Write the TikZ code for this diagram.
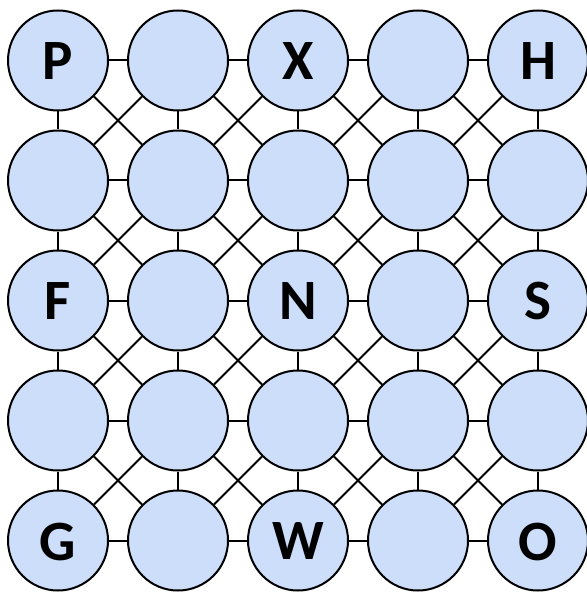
\documentclass[tikz,border=0pt]{standalone}
\usepackage{fontspec}
\setmainfont{Carlito}
\definecolor{cellfill}{RGB}{204,222,250}
\begin{document}
\begin{tikzpicture}[x=0.5pt,y=-0.5pt,
  cell/.style={circle,draw=black,line width=1pt,fill=cellfill,minimum size=50pt,inner sep=0pt},
  letter/.style={font=\fontsize{28.5}{30}\selectfont\bfseries,inner sep=0pt},
  link/.style={line width=1pt,draw=black}]
\useasboundingbox (0,0) rectangle (587,593);
\foreach \r in {1,...,5}{
  \foreach \c in {1,...,5}{
    \node[cell] (n\r\c) at ({58+120*(\c-1)},{60.5+120*(\r-1)}) {};
  }
}
\foreach \n/\t in {11/P,13/X,15/H,31/F,33/N,35/S,51/G,53/W,55/O}{
  \node[letter,yshift=-0.5pt] (t\n) at (n\n) {\t};
}
\foreach \r in {1,...,5}{
  \foreach \c [evaluate=\c as \cn using int(\c+1)] in {1,...,4}{
    \draw[link] (n\r\c) -- (n\r\cn);
    \draw[link] (n\c\r) -- (n\cn\r);
  }
}
\foreach \r [evaluate=\r as \rn using int(\r+1)] in {1,...,4}{
  \foreach \c [evaluate=\c as \cn using int(\c+1)] in {1,...,4}{
    \draw[link] (n\r\c) -- (n\rn\cn);
    \draw[link] (n\r\cn) -- (n\rn\c);
  }
}
\end{tikzpicture}
\end{document}
